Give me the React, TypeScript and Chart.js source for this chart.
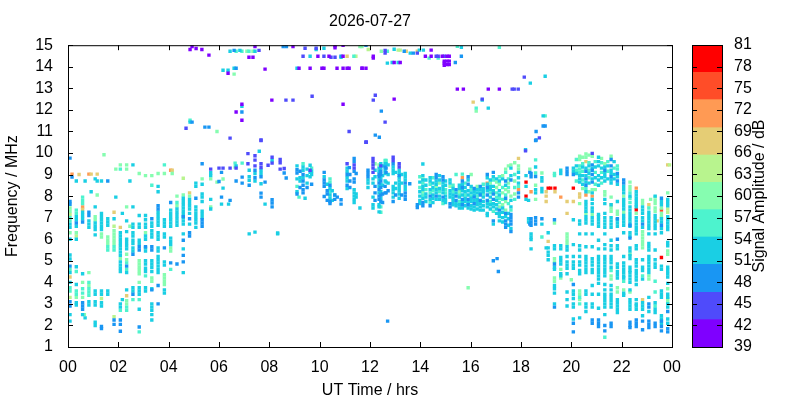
import { useEffect, useRef } from "react";
import { Chart, registerables } from "chart.js";
Chart.register(...registerables);

const title = "2026-07-27";
const colourbarLabel = "Signal Amplitude / dB";
const hourTicks = ["00","02","04","06","08","10","12","14","16","18","20","22","00"];
const bandEdges = [39,42.8,46.6,50.5,54.3,58.1,61.9,65.7,69.5,73.4,77.2,81];
const bandMids = [41,45,49,52,56,60,64,68,71,75,79];
const bandColors = ["#7f00ff","#4f4bfb","#1996f3","#1acfe4","#4df3ce","#86fdb0","#b8f48e","#e5cd75","#ff9a54","#ff4d28","#ff0000"];

// rows: [hour, amplitude band, ...frequencies]
const morning: number[][] = [
[0.08,49,9.76,7.75,7.62],[0.16,71,9.02],[0.16,49,8.88],[0.08,60,7.45,7.3,6.3],[0.08,64,7.15],[0.08,56,7,6.85,4.6,3.75,3.6],[0.08,52,6.7,6.55,6,5.27,5.08,4.45,4,2.5,2.2],[0.08,49,4.75,3.1,2.9],[0.08,68,4.25],[0.08,64,3.3],
[0.44,68,9],[0.33,52,8.7,7.05,6.9,6.6,6,4.72,3.9,3.05,2.95],[0.33,56,7.35,7.2,4.5,3.6,3.45],[0.33,49,6.75],[0.33,60,6.3,3.3],[0.33,64,6.15],
[0.68,52,8.7],[0.58,56,7.95,7.8,7.65,3.7,3.5],[0.58,71,7.5],[0.58,68,7.38],[0.58,52,7.25,7.1,6.95,4.4,2.5],[0.58,49,6.8,3.05,2.9,2.75],[0.58,60,4,3.3],[0.65,60,2.5],[0.68,52,2.35],
[0.83,71,9.02],[0.92,68,9.02],[0.92,52,8.2],[0.83,49,7.25,7.1],[0.83,52,6.85,6.7,6.55,3.1,2.95],[0.83,60,4.45,3.85],[0.83,56,4,3.7,3.55,3.4],
[1.08,52,8.8,7.5,2.15,2],[1.16,68,9.02],[1.16,52,8.7],[1.16,60,8.05],[1.08,60,7.05,6.9],[1.08,52,6.75,6.6,6.45,6.2,3.6,3.45,3.1,2.95],
[1.33,52,8.7,7.2,7.05,6.9,6.75,6.6,6.45,3.6,3.45,3.05,2.9],[1.33,60,6.25,6.1],[1.33,49,1.95,1.85],[1.33,64,3.25],[1.58,49,8.7],[1.43,60,9.92],
[1.58,52,6.95,6.8,6.65,3.6,3.45],[1.58,60,6.1,5.95,5.8],[1.58,56,5.65,5.5],
[1.83,64,6.6],[1.83,68,7.25],[1.83,52,6.95],[1.9,52,7.95],[1.9,60,9.25],[1.83,60,6.4,6.25,6.1,5.95,5.8],[1.83,56,5.65,5.5],[1.83,64,2.4],[1.83,49,2.25,2.05],
[2.08,60,9.45],[2.08,56,9.25],[2.08,68,6.55],[2.16,52,7.2,3.2],[2.08,52,6.3,6.15,6,5.85,5.7,5.55,5.4,5.25,4.95,4.8,4.65,4.5,3,2.85],[2.08,60,5.1],[2.08,56,2.7],[2.08,49,2.25,2.05,1.73],
[2.33,60,9.45,9.25,7.5],[2.33,52,6.85,6.35,6,5.85,5.7,5.55,4.45,3.65],[2.33,60,5.3,5.05,3.15,3],[2.33,49,4.75],[2.33,56,4.9,4.6,2.85,2.7],[2.33,68,3.38],
[2.58,52,9.45,7.5,6.7,6.55,6.3,6.15,5.95,5.8,5.6,5.45,3.75,3.6],[2.46,60,6.6],[2.46,52,8.7],[2.58,49,5.3,3.45],[2.58,56,3.2],
[2.83,60,9.05],[2.83,52,7.1,6.7,6.55,5.95,5.8,3.75,3.6,3.45,2.75],[2.83,49,5.65,5.5,1.93],[2.83,60,5,4.85,4.7,4.55,4.4,4],[2.83,56,3.2,1.7],
[3.08,60,8.95,6.3],[3.08,52,7.1,6.9,6.7,6.55,6.15,6,5.6,5.45,5,4.85,4.65,4.5,3.75,3.6],[3.08,49,5.65],[3.08,56,4.3],
[3.33,60,8.95,4.2,4.05],[3.33,56,8.5],[3.33,49,6.95,5.65,5.5,3.65],[3.33,52,6.75,6.6,6.4,6.25,6.1,5,4.85,4.7,4.5,3.7,3,2.85,2.7,2.5,2.25],
[3.58,60,9.05],[3.58,52,8.45,8.2,7.25,7.1,6.95,6.8,6.65,6.3,6.15,6,5.6,5.45,5.2,5.05,4.9,4.75,4.6,4.45],[3.58,49,7.55,7.4,3.85,3],
[3.83,56,9.45],[3.83,60,9.05,4.35,4.2,4.05,3.9],[3.83,52,6.9,6.75,6.6,6.25,6.1,4.95,4.8,3.65,3.5],[3.83,49,5.6],
[4.08,71,9.2],[4.14,68,9.2],[4.14,60,9.05],[4.08,49,7.7,4.9],[4.08,52,7.35,7.2,7.05,6.9,6.75,6.6,6.05,5.9,5.75],[4.08,60,5.6,5.45],[4.08,56,4.6],
[4.33,60,8,7.55],[4.33,52,7.4,7.25,7.1,6.95,6.8,6.65],[4.33,49,4.85],[4.33,56,7.7],
[4.58,64,8.83],[4.58,60,8.05],[4.58,52,7.9,7.75,7.6,7.45,7.3,7.15,7,6.85,6.7,6.25,5.55,4.45],[4.58,49,7.05,5.95,5.25,4.95],
[4.83,68,8.15],[4.83,60,8],[4.83,52,7.85,7.7,7.55,7.4,7.2,6.7],[4.83,49,6.3,6.15,6.95],
[5.08,52,8.6,8.45,7.5,7.35,7.2,7.05,6.9,6.75,6.55],[5.08,49,7.9],[5.33,49,9.5,6.9,6.75,6.6],[5.33,60,8.8],[5.33,52,8.55,8.1,7.95,7.75,7.3,7.15,7],
[5.67,45,9.25],[5.67,52,9.08,8.95,7.85,7.4],[5.67,60,8.8,7.5],[5.92,60,8.65],[6,49,8.68],[6.16,52,8.37],[6.16,60,8.79],[6.16,45,9.3],[6.1,52,7.63],[6,45,9.3],[6.1,49,9.1,7.95],
];

const midday: number[][] = [
[6.44,45,9.3],[6.44,49,7.8],[6.38,52,7.63],[6.64,56,9.53],[6.64,60,9.35],[6.68,45,9.3],[6.68,52,9.4],[6.68,49,8.7],[6.92,56,9.53],[6.92,49,8.88,8.6],
[7.15,45,9.97,9.5],[7.2,52,9.2,8.9,8.73],[7.2,49,8.5],[7.43,45,9.87,9.67,9.4],[7.43,49,9.2,8.85],[7.43,52,9.05,8.7,6.33],[7.6,52,10.08],[7.67,45,10.58,9.5,9.33],[7.67,52,9.2,9.05,8.57],[7.67,49,8.9,8.14,7.95],
[7.83,49,8.65],[7.83,52,7.63],[7.95,45,9.43],[8.11,45,9.8,9.53],[8.11,52,9.65],[8.11,49,7.83,7.68,7.5],[8.43,45,9.7,9.55,9.25],[8.33,52,6.29],[8.59,45,9.28],[8.59,49,9.07],[8.67,49,8.84],
[9.1,52,9.4,8.8,8.2],[9.1,49,9.22,9.07,8.1],[9.1,56,8.45],[9.18,56,7.95],[9.34,56,9.5],[9.34,52,9.35,9.2,8.85],[9.34,49,9,8.7,8.5,8.3,8.15],[9.42,52,7.9],[9.62,52,9.43,9.1,8.9],[9.62,45,9.2],[9.68,56,9.3],[9.68,52,9.15,9],[9.68,49,8.55],
[10.18,49,9.1,8.75,8.6,8.45,7.98],[10.18,52,8.9],[10.41,56,8.8,8.65,8.2],[10.41,49,8.5,7.75,7.65],[10.41,52,8.35,8.05,7.9],[10.6,49,8.05,7.85],[10.6,56,8.05],[10.7,49,7.95],[10.85,49,7.83,7.63],
[11.09,45,9.5],[11.09,52,9.3,9.15,8.85,8.7,8.35],[11.09,49,9,8.5],[11.18,49,9.32],[11.37,49,9.75,9.6,9.15,8.8,8.65],[11.37,45,9.45,9.3],[11.37,52,8.3,8.15,8,7.85,7.7],[11.6,52,7.45],
[11.92,49,9.2,9.05,8.9],[11.92,52,8.75,8.6,8.4],[11.85,45,10.5],[12.12,45,9.75,9.6,9.45,9.3,9.1],[12.12,52,8.8,8.6,7.95,7.6,7.45],[12.2,60,9.5],[12.36,60,9.45],[12.36,52,9.3,9.15,8.75,8.45,8.15,7.6,7.5,7.27],[12.36,49,9,8.9,8.6,8.3,8,7.85],[12.64,56,9.65],[12.64,52,9.5,8.65],[12.64,49,9.3,9.1,8.15],
[12.43,52,9.5,9.3,8.85,8.55,8.2,7.9],[12.43,45,9.4],[12.43,49,9.15,9,8.7,8.4,8.05,7.75],[12.43,56,7.5,7.25],[12.6,56,9.65],[12.6,52,9.5,9.2,9.05,8.7],[12.6,49,9.35,8.45,8.15],
[12.92,45,9.8,9.65],[12.92,49,9.5,7.75],[12.92,52,9.35,9.2,9.05,8.45,8.3,8.15,7.95],[13.16,45,9.5,9.35],[13.16,52,9.2,9.05,8.85,8.7,8.55,8.4,8.25,8.1,7.9],[13.16,49,8.95],
[13.4,52,9.05,8.9,8.75,8.45,8.3],[13.4,49,8.6,8.15,8,7.85],[13.58,49,8.57],[13.88,49,7.6,7.47],
[14.1,52,9.49,8.95,8.75,8.45,8.3,7.9],[14.1,60,8.8,8.2],[14.1,56,8.6,8.05],[14.1,49,7.7,7.55],[14.39,52,8.85,8.7,8.3,7.85],[14.39,56,8.55,8.15,7.7],[14.39,49,8,7.55],
[14.63,49,9,8.85,8],[14.63,52,8.7,8.55,8.3,8.15,7.85],[14.63,60,8.45],[14.75,60,8.6],[14.9,49,8.9,8.75,7.95],[14.9,52,8.6,8.45,8.3,8.15,7.8],[14.9,56,7.65],
[15.18,52,8.75,8.6,8.25,8.1,7.95],[15.18,60,8.45],[15.18,49,7.65,7.5],[15.42,49,8.3,8,7.8],[15.42,52,8.15,7.65,7.55],[15.42,56,9],
[15.67,56,9.02],[15.67,71,8.85],[15.67,49,8.7,8.4,7.85,7.6],[15.67,52,8.55,8.25,8.05,7.7,7.45],[15.9,49,8.9,8.55,7.85,7.6],[15.9,52,8.75,8.25,8.05,7.7,7.45],[16.02,60,9],
[16.14,49,8.35,7.95,7.65],[16.14,52,8.2,8.05,7.8,7.5,7.35],[16.38,49,8.45,8.05,7.8],[16.38,52,8.3,8.15,7.65,7.5,7.35],
[16.66,49,9,8.4,8.05,7.8],[16.66,52,8.85,8.55,8.25,7.65,7.5,7.2,7.1],[16.66,71,8.6],[16.9,49,9.1,8.1,7.85,6.85],[16.9,56,8.75,7.3],[16.9,52,8.9,8.45,8.25,7.65,7.5,6.7],
[17.14,56,8.9,7.9,7.7],[17.14,60,8.55,7.5],[17.14,52,8.7,8.25,8.05,7.2,7.05,6.85],[17.14,49,7.35],[17.39,60,9.25,8.3,7.75,7.35],[17.39,56,9.1,8.05],[17.39,49,8.7,7.9,7.2,6.85,6.7,6.55],[17.39,52,7.05,8.5],
[17.6,60,9.45,8],[17.6,52,9.3,8.95,7.8,7.5,6.5],[17.6,49,8.75,7.15,7,6.85,6.7,6.35],[17.6,56,7.35],[17.9,68,9.75],[17.9,60,9.4,9.25],[17.9,71,8.3],[17.9,52,9.1,8.85,8.6],[17.9,56,8.45],[17.9,49,8.15,7.95],
[18.2,79,8.65,8],[18.2,52,8.95,8.45,7.85],[18.3,52,7.8,6.95,6.8],[18.35,49,9.1,6.7],[18.35,60,9.25],[18.18,45,10.1],[18.18,52,10.15],
];

// second readings of the crowded midday and afternoon columns
const middayDense: number[][] = [
[9.22,52,8.85,8.7],[9.22,49,9.15,8.4],[9.5,52,9.25,8.95,8.6],[9.5,49,8.4],
[10.3,49,8.25,8.1,7.8],[10.3,52,8.55],[10.5,52,8.25,7.8],
[11.2,49,9,8.7,8.4],[11.45,49,9.05],[11.45,52,8.1,7.95],
[12.2,52,9.2,8.9],[12.2,49,8.45,8.15,7.8],[12.5,52,9.4,8.95,8.5],[12.5,49,8.1,7.7],
[12.72,52,9.45,9,8.6],[12.72,49,8.25],[13.02,52,9.1,8.6,8.35],[13.02,49,8.05],[13.26,52,9,8.6],[13.26,49,8.05],
[13.98,56,8.9,8.4],[13.98,52,8.65,8.2,8,7.8,7.65],[14.22,52,8.75,8.5,8.1,7.95,7.75],[14.22,56,8.3],
[14.5,56,8.85,8.25],[14.5,52,8.6,8.4,8.05,7.9,7.7],[14.76,52,8.95,8.75,8.35,8,7.85],[14.76,56,8.2],[15,52,8.7,8.5,8,7.85,7.7],[15,56,8.3,8.15],
[15.3,56,8.5,8.2],[15.3,52,8.35,8.05,7.9,7.75,7.6],[15.55,52,8.5,8.35,7.95,7.6,7.45],[15.55,60,8.2],[15.55,56,8.05,7.75],[15.78,56,8.6,8.05],[15.78,52,8.4,8.2,7.9,7.75,7.55],
[16.02,52,8.45,8.15,7.9,7.75,7.55,7.4],[16.02,56,8.3,8],[16.26,60,8.45],[16.26,52,8.3,8.15,7.85,7.75,7.6,7.4],[16.26,56,8],[16.5,56,8.55,8.1],[16.5,52,8.35,8.2,7.95,7.75,7.55,7.35],
[16.78,60,8.6],[16.78,52,8.75,8.45,8.3,7.95,7.6,7.4],[16.78,56,8.15,7.75],[17.03,60,8.65,8.4],[17.03,56,8.15,7.95],[17.03,52,8.8,7.8,7.6,7.4,7.2],
[17.27,60,8.95,8.15,7.6],[17.27,56,8.4,7.85],[17.27,52,8.8,7.45,7,7.25,6.8],[17.5,60,9.4,8.6,8.2],[17.5,56,8.8,8.4,7.65],[17.5,52,6.95,7.2,6.65],[17.75,60,9.55,8.7,8.1],[17.75,56,9,8.4,7.85],
];

const evening: number[][] = [
[18.58,49,10.58,8.91],[18.58,56,9.68,9.07],[18.58,52,9.35,8.3,8.15],[18.58,60,8.5,7.85],[18.58,49,7,6.85,6.7],[18.4,49,9.05,8.9,6.95,6.8,6.65],[18.4,71,8.2],[18.4,52,6.25,6.1,5.98,5.55],
[18.83,60,9.07],[18.83,52,8.85,8.7,8.35,8.2,6.7],[18.83,49,6.95],[18.83,56,6.1],[19,68,8.2,8,7.75],[19.08,79,8.37],[19.18,79,8.37],[19.08,52,6.3,5.6,5.4,5.25,5.05],[19.08,68,5.9],[19,52,5.6],
[19.33,56,9.05,8.95],[19.35,79,8.37],[19.35,68,8.2],[19.33,49,6.9],[19.33,60,6.75],[19.33,52,5.7,5.55,4.7,4.6],[19.33,60,5.1,4.95],[19.33,49,4.85],[19.33,60,4.2,4.05],[19.33,52,3.85,3.7,3.5,3],[19.33,49,2.85],
[19.58,52,9.2,9.05,5.7,5.55,5.15,5,4.85,4.4,4.3],[19.58,71,7.95],[19.58,60,4.6,4.2],
[19.83,49,9.3,9.15,9],[19.83,68,7.75],[19.83,68,7.2],[19.83,60,6.25,6.1,5.95,5.8],[19.83,52,5.65,5.5,5.2,4.95,4.8,4.65,4.4,3.55,3.2,2.9],
[20.08,52,9.3,9.15,5.75,5.2,4.95,4.8,4.65,3.6,3.45,3.25,3,2.85,2.3],[20.08,49,9,2.1,1.7,3.9],[20.08,79,8.37],[20.08,68,7.75],[20.08,52,6.9],[20,60,4.12],
[20.33,60,9.85,9.7],[20.33,56,9.4,9.25,9.1],[20.33,52,8.95,8.8,8.65,6.85,6.7,6.25,5.7,5.5,5.2,4.95,4.8,4.55,4.4],[20.33,68,8.1,7.95],[20.33,60,7.65],[20.33,60,3.6,3.45,3.2],[20.33,56,3.3,3],[20.33,52,2.35],
[20.58,60,9.95,9.8],[20.58,68,9.6],[20.58,52,9.3,8.95,8.65,8.2,7.75,7.6,7.05,6.9,6.75,6.25,5.65,4.9,4.75,4.6],[20.58,49,9.15,8.8,8.5],[20.58,71,8.05],[20.58,60,7.2],[20.58,52,3.6,3.45,3,2.85,2.65],[20.58,56,8.35],
[20.83,45,9.98],[20.83,60,9.85],[20.83,49,9.45,9.2,9,8.65],[20.83,60,8.3],[20.83,71,8],[20.83,52,9.3,8.8,8.15,7.85,7.65,7,6.85,6.7,6.25,5.65,4.95,4.8,4.6,3.85,3.45,3,2.85],[20.83,60,7.15],[20.83,49,2.25,2.1],
[21.08,52,9.8,9.6,9.4,8.95,8.75,8.5,6.9,5.95,5.55,5.05,4.9,4.75,4.6,4.45,3.45,2.8],[21.08,49,2.25,2.1,1.95],
[21.33,60,9.5,8.2,8.05],[21.33,52,9.35,9.05,8.9,8.7,7.85,7.65,7,6.85,6.25,5.75,5.55,5.05,4.9,4.75,4.6,4.45,3.9,3.65,3.45,3,2.85,2.5],[21.33,49,9.2,2],[21.33,49,1.75],[21.33,56,1.45],
[21.58,60,9.85,7.95,4.3,4.15],[21.58,49,9.7,9.4,8.9],[21.58,52,9.2,9.05,8.75,8.6,7.6,7,6.85,5.95,5.7,5.5,5.2,5.05,4.9,4.7,3.65,3.45,3,2.85],[21.58,60,7.45,7.3],[21.58,68,7.6],[21.58,56,4.55],[21.58,49,2.1,1.95],
[21.83,56,9.4,9.25],[21.83,49,9.05,8.7],[21.83,52,8.9,8.55,7.75,6.9],[21.83,60,7.3,7.15],[21.83,49,6.95,6],[21.83,52,5.7,5.55,4.85,4.7,4.5],[21.83,60,3.75,3.55],[21.83,52,3.2,3.05,2.9,2.75,2.6],
[22.08,49,8.75,8.6],[22.08,52,8.45,8.3,8.15,7.85,7.7],[22.08,60,8,7.25],[22.08,52,7.1,6.95,6.8,6.65,6.3,5.2,4.9,4.75,4.6,4.45],[22.08,56,4.05],[22.08,60,3.65],[22.08,52,3.5,3.4],
[22.33,60,8.65,8.45,8.3],[22.33,56,8.15,7.9,7.7],[22.33,52,7.5,7.35,6.9,6.75,6.3,6.15,5.6,5.45,5.25,5.1,4.7,4.55,4.45],[22.33,49,6.65,6.05],[22.33,60,5.3,3.55],[22.33,52,3.65,3.05,2.9,2.75],[22.33,49,2.15,2,1.9],
[22.58,71,8.37],[22.58,52,8.2,8.05,7.9,7.75,7.5,7,6.85,6.7,6.25,5.7,5.55,5.05,4.9,4.75,4.55,4.4,3],[22.58,79,7.37],[22.58,60,7.2],[22.58,49,2.25,2.1,1.95],
[22.83,60,7.8,7.65],[22.83,52,7.5,7.2,7,6.85,5.05,4.7,2.75,2.45],[22.83,49,6.7,2.2],[22.83,60,6.35,6.2,6.05,5.9,5.75,5.6],[22.83,68,3.2],[22.83,52,3.05,2.9],[22.83,49,1.8],[22.83,56,4.3],
[23.08,68,7.6],[23.08,56,7.45],[23.08,52,7.25,7.1,6.95,6.8,6.65,6.25,5.8,5.65,5.5,5.2,5.05,4.9,4.75,4.6,4.45],[23.08,60,4.3,4.15],[23.08,49,3,2.85,2.2,2.05,1.9],[23.15,60,7.85],
[23.33,60,7.95,7.8,7.65,7.45,7.3],[23.33,52,8,7.1,6.95,6.8,6.25,5.5,5.05,4.85,4.7,3.05],[23.33,56,4.05,3.55,2.9],[23.33,49,2.1,1.95],[23.41,68,6.85],
[23.58,49,7.9,6.65],[23.58,52,7.75,7.6,6.95,6.8,6.3,4.6,3.6,3.45],[23.58,60,7.45,7.2,7.05],[23.58,75,7.35],[23.58,79,5.15],[23.58,52,2.45,2.3,2.1],[23.58,49,2.2,1.95,1.75],
[23.83,68,9.45],[23.9,64,9.45],[23.83,60,8.15],[23.83,52,7.85,7.7,7.55,7.05,6.9,6.75,5.7,4.7,4.55,3.95,3.45],[23.83,64,7.4,7.25],[23.83,68,6.95],[23.83,60,5.45,5.3,3.7],[23.83,52,3,2.85,2.3,2.1],[23.83,49,2.65,1.85,1.7],[23.83,60,3.25,3.1],
];

// second readings of the crowded evening columns
const eveningDense: number[][] = [
[20.2,52,9.4,9.05],[20.2,56,9.7,8.7,9.2],[20.45,56,9.5,9.15,8.75],[20.45,52,9.35,8.95,8.55],[20.45,60,9.8,8.35],
[20.7,52,9.4,9.05,8.6],[20.7,56,9.55,9.2,8.85],[20.7,60,9.9,8.2],[20.95,52,9.35,8.85],[20.95,56,9.6,9.1,8.55],[20.95,60,8.3],[21.2,52,9.3,8.85],[21.2,56,9.55,9.1,8.6],[21.2,60,9.75],
[21.45,56,9.6,9.15],[21.45,52,9.4,8.8],[21.7,52,9.6,9,8.8],[21.7,56,9.3],
[20.58,52,7.45,7.3],[20.83,52,7.45,7.3],[21.08,52,7.15,7.05,6.75,6.6],[21.33,52,7.2,6.7,6.55],[21.58,52,6.7,6.55],[21.83,52,6.75,6.6],[22.08,52,7.55,7.4],[22.33,52,7.2,7.05,6.6,8],[22.58,52,7.6,6.55,6.4],
[21.08,52,4.3,4.15,3.95],[21.33,52,4.3],[21.58,52,3.85],[21.83,52,4.35,4.2],[22.08,52,4.3,4.2],[22.33,52,4.3,4.15,4],[22.58,52,4.25,4.1,3.9],[22.83,52,4.55,4.15],
[22.83,52,7.35,6.55],[23.08,52,6.5],[23.33,52,6.65,6.5],[23.58,52,6.5,4.75,3.3],[23.83,52,6.6,6.45,5.85,4.4,4.25,3.3],
[20.58,52,5.05,5.2,4.45],[20.83,52,5.1,4.45],[21.08,52,5.2],[21.33,52,5.2,3.3,3.15],[21.58,52,3.3,3.15],[22.33,52,3.2],[22.58,52,3.2,2.9,2.75],[23.08,52,3.3,2.65],[23.33,52,2.75,2.6],
];

const lowOutliers: number[][] = [
[12.7,49,2.2],[7.2,52,6.25],[8.33,52,6.25],[15.9,60,3.75],[17.05,49,5.1],[17.1,49,4.5],[16.9,49,5],
];

const upper: number[][] = [
[4.93,41,14.94],[4.85,41,14.8],[5.09,41,14.85],[5.32,41,14.8],[5.6,41,14.54],
[6.44,52,14.72],[6.6,49,14.76],[6.68,56,14.72],[6.83,52,14.76],[6.91,56,14.72],[7.11,60,14.72],[7.19,56,14.72],[7.35,60,14.72],[7.43,52,14.72],[7.59,45,14.76],[7.43,41,14.94],[7.19,41,14.44],[7.35,41,14.44],
[6.16,52,13.84],[6.36,52,13.84],[6.36,41,13.7],[6.6,52,13.93],[6.68,49,13.93],[6.6,60,13.66],[7.83,41,13.89],
[6.91,52,12.17],[6.91,41,12.26],[6.68,41,11.9],[6.91,49,11.9],[6.91,41,11.52],
[4.85,56,11.52],[4.85,52,11.43],[4.93,49,11.43],[4.69,45,11.15],[5.44,49,11.2],[5.6,49,11.2],[5.92,60,11],[6.44,45,10.69],[7.67,45,10.6],
[8.1,41,12.45],[8.66,45,12.45],[8.94,45,12.45],[9.7,45,12.63],[10.93,41,12.26],[11.17,45,11],[11.84,45,10.5],
[8.55,49,14.94],[8.68,49,14.94],[8.94,41,14.94],[9.42,45,14.86],[9.86,52,14.8],[9.86,45,14.86],[10.17,52,14.86],[10.61,41,14.97,14.88],[10.93,41,15],[11.6,60,14.94],[11.68,60,14.94],[11.84,49,15],[11.93,64,14.8],
[9.34,45,14.49],[9.62,52,14.49],[9.93,41,14.49],[10.17,45,14.49],[10.37,41,14.49],[10.45,45,14.44],[10.61,45,14.44],[10.85,49,14.49],[10.85,52,14.44],[10.93,41,14.49],[11.09,68,14.49],[11.36,56,14.49],[11.44,64,14.49],
[9.1,52,13.93],[9.18,41,13.93],[9.62,41,13.93],[10.09,41,13.93],[10.17,41,13.93],[10.69,41,13.93],[10.93,41,13.93],[11.09,41,13.93],[11.17,41,13.93],[11.68,41,13.93],[11.84,41,13.93],
[12.45,60,14.72],[12.6,45,14.76,14.63],[12.69,56,14.72],[12.13,41,14.49,14.4],[12.96,52,14.81],[13.12,64,14.77],[13.2,64,14.77],[13.36,49,14.72],[13.44,68,14.72],[13.6,52,14.63],[13.72,49,14.63],[13.88,45,14.63],[13.88,68,14.72],[13.96,52,14.77],[14.12,52,14.77],[14.43,41,14.77],[14.2,41,14.49],[14.43,41,14.49],[14.35,56,14.4],[14.63,45,14.49],[14.71,45,14.49],[14.71,56,14.4],[14.87,41,14.49],[14.95,45,14.49],[15.06,41,14.49],[15.15,41,14.49],
[14.95,41,14.26,14.17,14.07],[15.15,41,14.26],[15.06,41,14.26],[15.06,41,14.1],[15.15,41,14.1],[15.39,49,14.2],[15.63,49,14.49],[15.47,56,14.95],[15.63,52,14.9],[17.14,56,14.9],
[12.69,52,14.17],[12.88,52,14.2],[12.96,41,14.2],[13.12,52,14.2],[13.2,41,14.2],[11.69,41,13.93],
[15.47,41,12.96],[15.71,41,12.96],[16.7,41,12.96],[17.14,41,12.96],[17.65,45,12.96],[17.73,45,12.96],[17.89,45,12.96],[18.13,45,13.52],[18.96,52,13.56],[18.37,52,13.24],
[12.21,45,12.68],[12.13,45,12.45],[12.96,41,12.5],[16.1,68,12.36],[16.46,45,12.5],[16.46,52,12.45],[16.22,56,12.08],[16.22,60,11.94],[16.7,52,12.08],
[12.45,49,11.94],[12.6,45,11.43],[12.21,49,10.83],[12.37,49,10.73],[11.85,45,10.5],
[18.88,52,11.72],[18.96,56,11.72],[18.88,49,11.25],[18.96,49,11.25],[18.6,49,11],[18.73,45,10.7],[18.6,49,10.6],
];

const allRows = [...morning, ...midday, ...middayDense, ...evening, ...eveningDense, ...lowOutliers, ...upper];

const font = "'Liberation Sans', Arial, sans-serif";

const inwardTicks = {
  id: "inwardTicks",
  afterDraw(chart: any) {
    const { ctx, chartArea: a, scales } = chart;
    ctx.save();
    ctx.strokeStyle = "#000";
    ctx.lineWidth = 1;
    ctx.strokeRect(a.left + 0.5, a.top + 0.5, a.right - a.left, a.bottom - a.top);
    ctx.beginPath();
    const len = 5;
    if (scales.x && scales.x.type === "linear") {
      for (const t of scales.x.ticks) {
        const x = Math.round(scales.x.getPixelForValue(t.value)) + 0.5;
        ctx.moveTo(x, a.top); ctx.lineTo(x, a.top + len);
        ctx.moveTo(x, a.bottom); ctx.lineTo(x, a.bottom - len);
      }
    }
    for (const t of scales.y.ticks) {
      const y = Math.round(scales.y.getPixelForValue(t.value)) + 0.5;
      ctx.moveTo(a.left, y); ctx.lineTo(a.left + len, y);
      ctx.moveTo(a.right, y); ctx.lineTo(a.right - len, y);
    }
    ctx.stroke();
    ctx.restore();
  },
};

// Chart.js turns a right-hand axis title clockwise; the reference reads bottom to top.
const colourbarTitle = {
  id: "colourbarTitle",
  afterDraw(chart: any) {
    const { ctx, chartArea: a } = chart;
    ctx.save();
    ctx.translate(a.right + 38, (a.top + a.bottom) / 2);
    ctx.rotate(-Math.PI / 2);
    ctx.font = `16px ${font}`;
    ctx.fillStyle = "#000";
    ctx.textAlign = "center";
    ctx.textBaseline = "middle";
    ctx.fillText(colourbarLabel, 0, 0);
    ctx.restore();
  },
};

export default function App() {
  const mainRef = useRef<HTMLCanvasElement>(null);
  const barRef = useRef<HTMLCanvasElement>(null);
  useEffect(() => {
    document.body.style.margin = "0";
    const datasets = bandMids.map((mid, i) => ({
      label: String(mid),
      data: allRows
        .filter((r) => r[1] === mid)
        .flatMap((r) => r.slice(2).map((f) => ({ x: r[0], y: f }))),
      backgroundColor: bandColors[i],
      borderWidth: 0,
      pointStyle: "rect" as const,
      pointRadius: 2.4,
    }));
    const main = new Chart(mainRef.current!, {
      type: "scatter",
      data: { datasets },
      options: {
        animation: false,
        responsive: false,
        layout: { padding: { left: 0, right: 128, top: 12, bottom: 0 } },
        plugins: {
          legend: { display: false },
          tooltip: { enabled: false },
          title: { display: true, fullSize: false, text: title, color: "#000", font: { family: font, size: 16, weight: "normal" }, padding: { top: 0, bottom: 14 } },
        },
        scales: {
          x: {
            type: "linear", min: 0, max: 24,
            afterFit: (s: any) => { s.height = 53; },
            afterBuildTicks: (s: any) => { s.ticks = hourTicks.map((_, i) => ({ value: i * 2 })); },
            grid: { display: false }, border: { display: false },
            ticks: { color: "#000", maxRotation: 0, autoSkip: false, padding: 3, font: { family: font, size: 16 }, callback: (_v: any, i: number) => hourTicks[i] },
            title: { display: true, text: "UT Time / hrs", color: "#000", font: { family: font, size: 16 }, padding: { top: 2, bottom: 0 } },
          },
          y: {
            min: 1, max: 15,
            afterFit: (s: any) => { s.width = 68; },
            grid: { display: false }, border: { display: false },
            ticks: { stepSize: 1, autoSkip: false, color: "#000", padding: 7, font: { family: font, size: 16 } },
            title: { display: true, text: "Frequency / MHz", color: "#000", font: { family: font, size: 16 }, padding: { top: 3, bottom: 0 } },
          },
        },
      },
      plugins: [inwardTicks],
    } as any);
    const bar = new Chart(barRef.current!, {
      type: "bar",
      data: {
        labels: [""],
        datasets: bandColors.map((c, i) => ({
          data: [[bandEdges[i], bandEdges[i + 1]]],
          backgroundColor: c,
          borderWidth: 0,
          barPercentage: 1,
          categoryPercentage: 1,
        })),
      },
      options: {
        animation: false,
        responsive: false,
        layout: { padding: { left: 12, right: 32, top: 45, bottom: 53 } },
        plugins: { legend: { display: false }, tooltip: { enabled: false } },
        scales: {
          x: { display: false, stacked: true, afterFit: (s: any) => { s.height = 0; } },
          y: {
            position: "right", min: 39, max: 81,
            afterFit: (s: any) => { s.width = 46; },
            grid: { display: false }, border: { display: false },
            ticks: { stepSize: 3, autoSkip: false, color: "#000", padding: 4, font: { family: font, size: 16 } },
          },
        },
      },
      plugins: [inwardTicks, colourbarTitle],
    } as any);
    return () => { main.destroy(); bar.destroy(); };
  }, []);
  return (
    <div style={{ position: "relative", width: 800, height: 400, background: "#fff" }}>
      <canvas ref={mainRef} width={800} height={400} style={{ position: "absolute", left: 0, top: 0 }} />
      <canvas ref={barRef} width={120} height={400} style={{ position: "absolute", left: 680, top: 0 }} />
    </div>
  );
}
